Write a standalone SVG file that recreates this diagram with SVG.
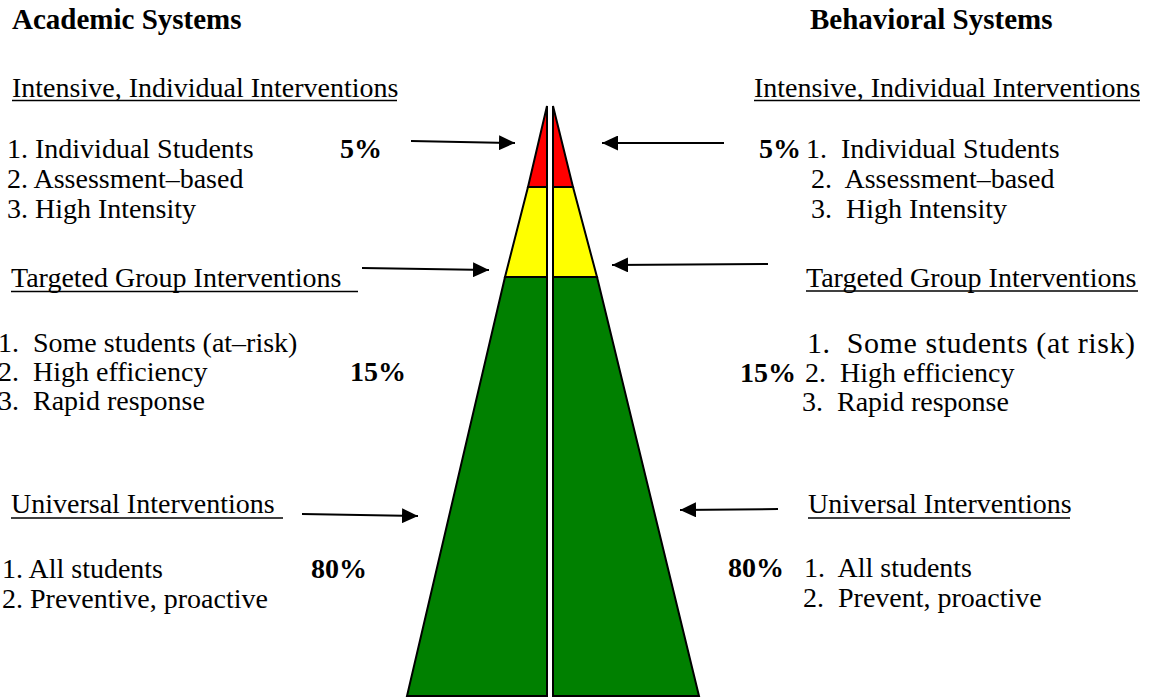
<svg xmlns="http://www.w3.org/2000/svg" width="1152" height="698" viewBox="0 0 1152 698">
<style>
text{font-family:"Liberation Serif","Times New Roman",serif;font-size:28px;fill:#000;white-space:pre}
.t{font-weight:bold;font-size:29px}
.b{font-weight:bold}
.u{stroke:#000;stroke-width:1.5}
.seg{stroke:#000;stroke-width:2;stroke-linejoin:miter}
.r{fill:#FF0000}.y{fill:#FFFF00}.g{fill:#008000}
.arr{stroke:#000;stroke-width:2;fill:none;marker-end:url(#ah)}
</style>
<defs>
<marker id="ah" markerUnits="userSpaceOnUse" markerWidth="16" markerHeight="15" refX="16" refY="7.5" orient="auto">
<path d="M0,0 L16,7.5 L0,15 z" fill="#000"/>
</marker>
</defs>
<rect width="1152" height="698" fill="#fff"/>
<g id="pyramid">
<polygon class="seg g" points="505,277 547,277 547,696 407,696"/>
<polygon class="seg y" points="528,187 547,187 547,277 505,277"/>
<polygon class="seg r" points="547,106 547,187 528,187"/>
<polygon class="seg g" points="597,277 553,277 553,696 699,696"/>
<polygon class="seg y" points="573,187 553,187 553,277 597,277"/>
<polygon class="seg r" points="553,106 553,187 573,187"/>
</g>
<g id="connectors">
<line class="arr" x1="411" y1="141" x2="515" y2="143"/>
<line class="arr" x1="724" y1="143" x2="602" y2="143"/>
<line class="arr" x1="362" y1="268" x2="489" y2="270"/>
<line class="arr" x1="768" y1="264" x2="612" y2="265"/>
<line class="arr" x1="302" y1="514" x2="418" y2="516"/>
<line class="arr" x1="778" y1="509" x2="680" y2="510"/>
</g>
<g id="academic">
<text class="t" x="12" y="29">Academic Systems</text>
<g id="a-intensive">
<text x="12" y="97">Intensive, Individual Interventions</text>
<line class="u" x1="12" y1="100.5" x2="397" y2="100.5"/>
<text x="7" y="158">1. Individual Students</text>
<text x="7" y="188">2. Assessment–based</text>
<text x="7" y="218">3. High Intensity</text>
<text class="b" x="340" y="158">5%</text>
</g>
<g id="a-targeted">
<text x="11" y="287">Targeted Group Interventions</text>
<line class="u" x1="11" y1="291.5" x2="358" y2="291.5"/>
<text x="-2" y="352">1.  Some students (at–risk)</text>
<text x="-2" y="381">2.  High efficiency</text>
<text x="-2" y="410">3.  Rapid response</text>
<text class="b" x="350" y="381">15%</text>
</g>
<g id="a-universal">
<text x="11" y="513">Universal Interventions</text>
<line class="u" x1="11" y1="518" x2="283" y2="518"/>
<text x="2" y="578">1. All students</text>
<text x="2" y="608">2. Preventive, proactive</text>
<text class="b" x="311" y="578">80%</text>
</g>
</g>
<g id="behavioral">
<text class="t" x="810" y="29">Behavioral Systems</text>
<g id="b-intensive">
<text x="754" y="97">Intensive, Individual Interventions</text>
<line class="u" x1="754" y1="100.5" x2="1140" y2="100.5"/>
<text class="b" x="759" y="158">5%</text>
<text x="806" y="158">1.  Individual Students</text>
<text x="811" y="188">2.  Assessment–based</text>
<text x="811" y="218">3.  High Intensity</text>
</g>
<g id="b-targeted">
<text x="806" y="287">Targeted Group Interventions</text>
<line class="u" x1="806" y1="291" x2="1138" y2="291"/>
<text x="807" y="353" style="font-size:30px" textLength="328" lengthAdjust="spacing">1.  Some students (at risk)</text>
<text class="b" x="740" y="382">15%</text>
<text x="805" y="382">2.  High efficiency</text>
<text x="802" y="411">3.  Rapid response</text>
</g>
<g id="b-universal">
<text x="808" y="513">Universal Interventions</text>
<line class="u" x1="808" y1="518" x2="1070" y2="518"/>
<text class="b" x="728" y="577">80%</text>
<text x="804" y="577">1.  All students</text>
<text x="803" y="607">2.  Prevent, proactive</text>
</g>
</g>
</svg>
